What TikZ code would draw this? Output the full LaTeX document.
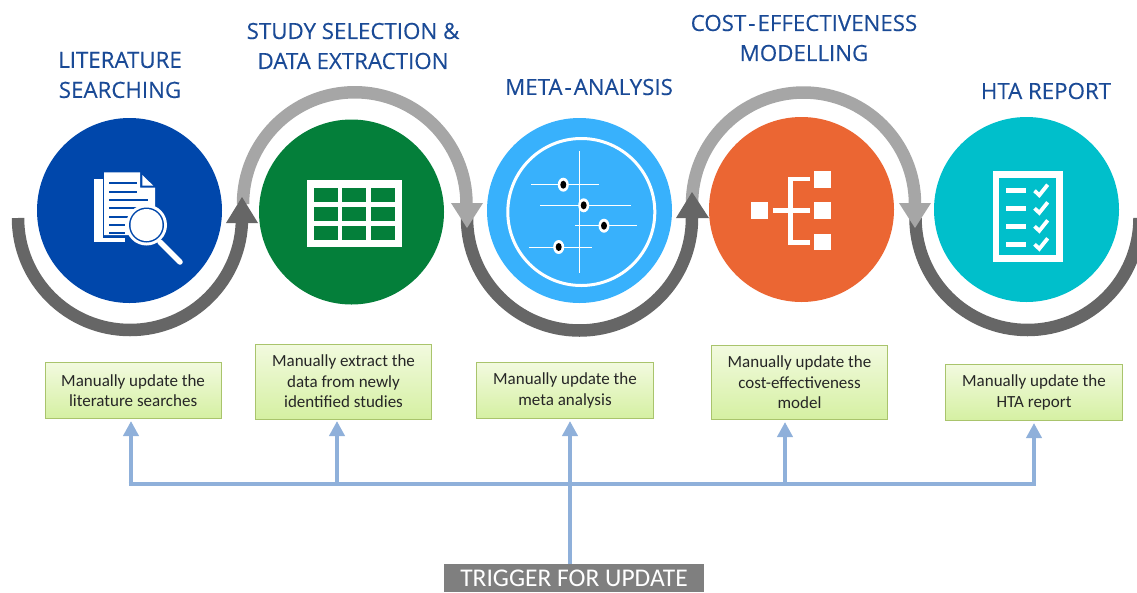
\documentclass[tikz,border=0pt]{standalone}
\usepackage{fontspec}
\setmainfont{Carlito}
\newfontfamily\headfont[FakeBold=0.25]{Open Sans}
\usetikzlibrary{arrows.meta,shadings}
\definecolor{headblue}{HTML}{1A4A96}
\definecolor{cA}{HTML}{0047AB}
\definecolor{cB}{HTML}{047F3A}
\definecolor{cC}{HTML}{38B1FC}
\definecolor{cD}{HTML}{EB6633}
\definecolor{cE}{HTML}{00BFCB}
\definecolor{darkarc}{HTML}{666666}
\definecolor{lightarc}{HTML}{A6A6A6}
\definecolor{busblue}{HTML}{8FB0DA}
\definecolor{boxedge}{HTML}{A9C46C}
\definecolor{boxtop}{HTML}{F2FADF}
\definecolor{boxbot}{HTML}{D5F0A2}
\definecolor{trig}{HTML}{7F7F7F}
\definecolor{labeltext}{HTML}{262626}
\newcommand{\hyph}{\kern2pt-\kern2pt}
\tikzset{
  x=1pt,y=-1pt,
  disc/.style={circle,minimum size=185pt,inner sep=0pt,outer sep=0pt},
  heading/.style={font=\headfont\fontsize{22.3}{30}\selectfont,text=headblue,align=center,inner sep=0pt},
  notebox/.style={draw=boxedge,line width=1pt,top color=boxtop,bottom color=boxbot,
    font=\fontsize{17}{20.5}\selectfont,text=labeltext,align=center,inner sep=0pt,anchor=north west},
  darkloop/.style={draw=darkarc,line width=12.5pt},
  lightloop/.style={draw=lightarc,line width=12.5pt},
  busline/.style={draw=busblue,line width=4.8pt},
  busarrow/.style={busline,-{Triangle[length=15pt,width=15pt]},shorten >=3pt},
}
\begin{document}
\begin{tikzpicture}
\useasboundingbox (0,0) rectangle (1137,592);
\clip (0,0) rectangle (1137,592);
% discs
\node[disc,fill=cA] (d1) at (129.5,210.5) {};
\node[disc,fill=cB] (d2) at (351.5,212) {};
\node[disc,fill=cC] (d3) at (579.5,210.5) {};
\node[disc,fill=cD] (d4) at (801.5,209.5) {};
\node[disc,fill=cE] (d5) at (1026.5,209.5) {};
% light loops
\draw[lightloop] (243,204) arc[start angle=180,end angle=360,x radius=111.75,y radius=111.75];
\draw[lightloop] (692,204) arc[start angle=180,end angle=360,x radius=111.5,y radius=111.5];
% dark loops
\draw[darkloop] (18,218) arc[start angle=180,end angle=0,x radius=112,y radius=112];
\fill[darkarc] (226,223) -- (258,223) -- (242,197) -- cycle;
\draw[darkloop] (467,218) arc[start angle=180,end angle=0,x radius=112.5,y radius=112.5];
\fill[darkarc] (676,218) -- (709,218) -- (692,192) -- cycle;
\draw[darkloop] (915.5,218) arc[start angle=180,end angle=0,x radius=112,y radius=112];
\fill[lightarc] (899,203) -- (931,203) -- (915,228) -- cycle;
\fill[lightarc] (451,203) -- (483,203) -- (467,228) -- cycle;
% icon 1: document and lens
\fill[white] (94.3,179) rectangle (125,242);
\fill[cA] (102.5,179) rectangle (125,238);
\fill[white] (104,172.3) -- (140,172.3) -- (140,187.5) -- (155,187.5) -- (155,235) -- (104,235) -- cycle;
\fill[white] (142.3,175) -- (142.3,185.7) -- (153.3,185.7) -- cycle;
\draw[cA,line width=1.4pt] (109,183) -- (137,183) (109,192) -- (137,192) (109,200) -- (148,200) (109,208) -- (148,208) (109,217) -- (130,217) (109,225) -- (125,225) (109,233) -- (125,233);
\draw[white,line width=5.5pt,line cap=round] (160,242) -- (180,262);
\fill[white] (146.5,225) circle[radius=20.5];
\fill[cA] (146.5,225) circle[radius=17.5];
\fill[white] (146.5,225) circle[radius=16];
% icon 2: table
\fill[white] (306.7,180.3) rectangle (401.7,246.7);
\foreach \xa/\xb in {314/337.7,342.3/366,371/395}
  \foreach \ya/\yb in {187.7/201.7,206.7/220.7,225.7/240}
    \fill[cB] (\xa,\ya) rectangle (\xb,\yb);
% icon 3: forest plot
\draw[white,line width=3pt] (581.3,212) circle[radius=73.5];
\draw[white,line width=1pt] (579.7,151) -- (579.7,272.7);
\draw[white,line width=1pt] (531,184.7) -- (599.3,184.7) (540,205.3) -- (631,205.3) (575,225.7) -- (637.3,225.7) (529.3,247) -- (591.7,247);
\foreach \xa/\ya in {563.3/184.7,583.7/205.3,604/225.7,558.7/247}{
  \fill[white] (\xa,\ya) ellipse[x radius=5.5,y radius=7];
  \fill[black] (\xa,\ya) ellipse[x radius=3,y radius=4];
}
% icon 4: tree
\fill[white] (751.3,202.3) rectangle (767.7,218.7);
\fill[white] (814.3,171) rectangle (831,187.7);
\fill[white] (814.3,202.3) rectangle (831,218.7);
\fill[white] (814.3,233.7) rectangle (831,250);
\draw[white,line width=4.5pt] (772.7,210.5) -- (810,210.5);
\draw[white,line width=4.5pt] (810,179) -- (790.7,179) -- (790.7,242.7) -- (810,242.7);
% icon 5: checklist
\draw[white,line width=6.5pt] (996,174.6) rectangle (1059.4,258.4);
\foreach \ya in {190.7,208.3,226.3,244.3}{
  \draw[white,line width=4.5pt] (1006,\ya) -- (1025.7,\ya);
  \draw[white,line width=3.8pt] (1034.5,\ya) -- (1039.3,\ya+4.5) -- (1047.7,\ya-6);
}
% headings
\node[heading] (h1) at (120,75) {LITERATURE\\SEARCHING};
\node[heading] (h2) at (353,46) {STUDY SELECTION \&\\DATA EXTRACTION};
\node[heading] (h3) at (589,87) {META\hyph ANALYSIS};
\node[heading] (h4) at (804,38) {COST\hyph EFFECTIVENESS\\MODELLING};
\node[heading] (h5) at (1046,91) {HTA REPORT};
% boxes
\node[notebox,minimum width=176pt,minimum height=56pt] (b1) at (44.6,362) {Manually update the\\literature searches};
\node[notebox,minimum width=176pt,minimum height=75pt] (b2) at (255,343.5) {Manually extract the\\data from newly\\identified studies};
\node[notebox,minimum width=177pt,minimum height=56pt] (b3) at (476,362) {Manually update the\\meta analysis};
\node[notebox,minimum width=176pt,minimum height=74pt] (b4) at (711,345) {Manually update the\\cost-effectiveness\\model};
\node[notebox,minimum width=177pt,minimum height=56pt] (b5) at (945,364) {Manually update the\\HTA report};
% trigger
\node[fill=trig,text=white,font=\fontsize{25.5}{28}\selectfont,minimum width=260pt,minimum height=28pt,inner sep=0pt,outer sep=0pt,anchor=north west,text depth=-2pt] (t) at (444,564) {TRIGGER FOR UPDATE};
% bus
\coordinate (j1) at (131,484);
\coordinate (j2) at (337,484);
\coordinate (j3) at (570,484);
\coordinate (j4) at (785,484);
\coordinate (j5) at (1034,484);
\coordinate (a1) at (131,418);
\coordinate (a2) at (337,418);
\coordinate (a3) at (570,418);
\coordinate (a4) at (785,419);
\coordinate (a5) at (1034,420);
\draw[busline] (t.north -| j3) -- (j3);
\draw[busline] ([xshift=-2.4pt]j1) -- ([xshift=2.4pt]j5);
\draw[busarrow] (j1) -- (a1);
\draw[busarrow] (j2) -- (a2);
\draw[busarrow] (j3) -- (a3);
\draw[busarrow] (j4) -- (a4);
\draw[busarrow] (j5) -- (a5);
\end{tikzpicture}
\end{document}
